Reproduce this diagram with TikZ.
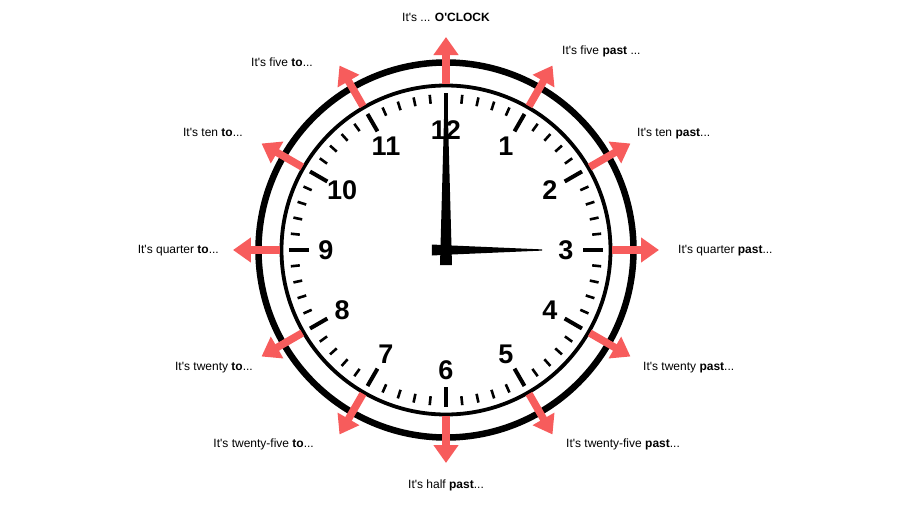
\documentclass[tikz,border=0pt]{standalone}
\usepackage{fontspec}
\setmainfont{Liberation Sans}[Ligatures=TeXOff]
\usetikzlibrary{arrows.meta}
\definecolor{arrowred}{RGB}{247,92,92}
\begin{document}
\begin{tikzpicture}[x=1pt,y=1pt,
  ring/.style={draw=black,line width=6.5pt},
  innerring/.style={draw=black,line width=3.8pt},
  minortick/.style={draw=black,line width=2.6pt},
  majortick/.style={draw=black,line width=4pt},
  numeral/.style={font=\fontsize{27}{27}\selectfont\bfseries, inner sep=0pt},
  redarrow/.style={draw=arrowred,line width=7.5pt,-{Triangle[width=24pt,length=18pt]}},
  lbl/.style={font=\fontsize{12}{14}\selectfont, inner sep=0pt, text height=8.6pt, text depth=2.5pt}]
\useasboundingbox (-446,-265) rectangle (470,250);
\fill[white] (-446,-265) rectangle (470,250);
% rings
\draw[ring] (0,0) circle (187.5);
\draw[innerring] (0,0) circle (164.5);
% ticks
\foreach \i in {0,...,59}{
  \pgfmathtruncatemacro{\m}{mod(\i,5)}
  \ifnum\m=0
    \draw[majortick] ({90-6*\i}:137) -- ({90-6*\i}:157);
  \else
    \draw[minortick] ({90-6*\i}:147) -- ({90-6*\i}:156);
  \fi
}
% numerals
\foreach \n in {1,...,12}{
  \node[numeral] (n\n) at ({90-30*\n}:120) {\n};
}
% hands
\fill[black] (-6,-15) -- (6,-15) -- (1.5,149) -- (-1.5,149) -- cycle;
\fill[black] (-14,-5.5) -- (-14,5.5) -- (6,4.5) -- (96,0.6) -- (96,-0.6) -- (6,-4.5) -- cycle;
% arrows
\foreach \k in {0,...,11}{
  \coordinate (s\k) at ({90-30*\k}:166);
  \coordinate (e\k) at ({90-30*\k}:213);
  \draw[redarrow] (s\k) -- (e\k);
}
% labels
\node[lbl] (l0) at (0,232) {It's ... \textbf{O'CLOCK}};
\node[lbl,anchor=west] (l1) at (116,199) {It's five \textbf{past} ...};
\node[lbl,anchor=west] (l2) at (191,117) {It's ten \textbf{past}...};
\node[lbl,anchor=west] (l3) at (232,0) {It's quarter \textbf{past}...};
\node[lbl,anchor=west] (l4) at (197,-117) {It's twenty \textbf{past}...};
\node[lbl,anchor=west] (l5) at (120,-194) {It's twenty-five \textbf{past}...};
\node[lbl] (l6) at (0,-235) {It's half \textbf{past}...};
\node[lbl,anchor=east] (l7) at (-132,-194) {It's twenty-five \textbf{to}...};
\node[lbl,anchor=east] (l8) at (-193,-117) {It's twenty \textbf{to}...};
\node[lbl,anchor=east] (l9) at (-227,0) {It's quarter \textbf{to}...};
\node[lbl,anchor=east] (l10) at (-203,117) {It's ten \textbf{to}...};
\node[lbl,anchor=east] (l11) at (-133,187) {It's five \textbf{to}...};
\end{tikzpicture}
\end{document}
